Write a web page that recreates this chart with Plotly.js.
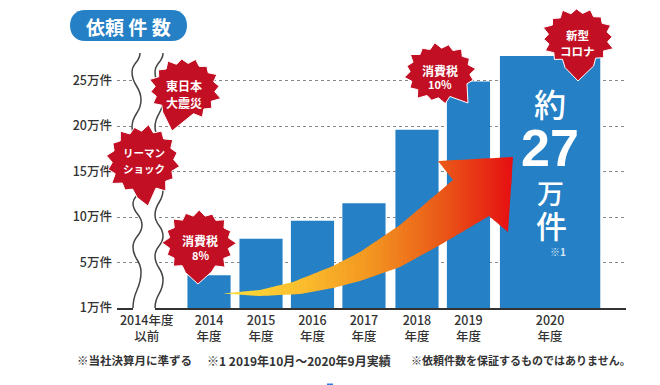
<!DOCTYPE html>
<html><head><meta charset="utf-8">
<script src="https://cdn.plot.ly/plotly-3.0.1.min.js"></script>
<style>html,body{margin:0;padding:0;background:#fff}#c{width:660px;height:385px}</style>
</head><body><div id="c"></div><script>
// ---- data ----
const categories = ['2014<br>年度','2015<br>年度','2016<br>年度','2017<br>年度','2018<br>年度','2019<br>年度','2020<br>年度'];
const requests = [3.6, 7.6, 9.6, 11.5, 19.6, 24.9, 27.7];
const yTickVals = [0, 5, 10, 15, 20, 25];
const yTickText = ['1万件','5万件','10万件','15万件','20万件','25万件'];
const earlierLabel = '2014年度<br>以前';
// ---- layout helpers ----
const barX = [0, 1, 1.99, 2.98, 4, 4.99, 6.56];
const barW = [.83, .83, .83, .83, .83, .83, 1.93];
const earlierX = -1.2;
const L = 117, R = 626, T = 8, B = 308;
const FONT = '"Noto Sans CJK JP","Noto Sans",sans-serif';
const px = x => (x - L) / (R - L), py = y => (B - y) / (B - T);
const P = (x, y) => px(x).toFixed(4) + ',' + py(y).toFixed(4);
const shapes = [], annotations = [];
const addPath = (path, fill, line, lw) => shapes.push({type:'path', xref:'paper', yref:'paper', layer:'above', path,
  fillcolor: fill || 'rgba(0,0,0,0)', line:{color: line || 'rgba(0,0,0,0)', width: lw || 0}});
const ann = (x, y, text, size, o) => annotations.push(Object.assign({xref:'paper', yref:'paper', x:px(x), y:py(y), text, showarrow:false,
  xanchor:'center', yanchor:'middle', font:{family:FONT, size, color:'#fff', weight:700}}, o || {}));
// wavy break
const waveL = [[140,53],[132,72],[141,100],[132,127],[141,150],[133,175],[139,190],[133,203],[142,225],[133,247],[141,272],[133,308]];
const waveR = [[163,53],[155,72],[163,100],[155,127],[163,150],[155,175],[163,190],[155,215],[163,236],[155,256],[163,280],[155,308]];
const curve = pts => pts.slice(1).map((p, i) => { const a = pts[i], m = (a[1] + p[1]) / 2;
  return 'C' + P(a[0], m) + ' ' + P(p[0], m) + ' ' + P(p[0], p[1]); }).join(' ');
const rev = waveR.slice().reverse();
addPath('M' + P(waveL[0][0], 53) + ' ' + curve(waveL) + ' L' + P(133, 310) + ' L' + P(155, 310) + ' L' + P(rev[0][0], rev[0][1]) + ' ' + curve(rev) + ' Z', '#fff');
addPath('M' + P(waveL[0][0], waveL[0][1]) + ' ' + curve(waveL), null, '#444', 1.5);
addPath('M' + P(waveR[0][0], waveR[0][1]) + ' ' + curve(waveR), null, '#444', 1.5);
// gradient arrow, sliced into vertical strips
const arrow = [[223,293.5],[260,290],[293,282],[333,266],[360,252],[400,225],[453,180],[438,161],[513,157],[508,232],[489,216],[440,245],[400,267],[360,281],[333,288],[300,294],[260,296]];
const clip = (poly, keep, cut) => { const out = [];
  poly.forEach((p, i) => { const q = poly[(i + 1) % poly.length], a = keep(p), b = keep(q);
    if (a) out.push(p);
    if (a !== b) { const t = (cut - p[0]) / (q[0] - p[0]); out.push([cut, p[1] + t * (q[1] - p[1])]); } });
  return out; };
const stops = [[223,[254,222,60]],[300,[250,190,45]],[370,[243,150,32]],[440,[234,90,24]],[513,[230,15,18]]];
const gradient = x => { let i = 0; while (i < stops.length - 2 && x > stops[i + 1][0]) i++;
  const [a, c0] = stops[i], [b, c1] = stops[i + 1], t = Math.min(1, Math.max(0, (x - a) / (b - a)));
  return 'rgb(' + c0.map((v, k) => Math.round(v + t * (c1[k] - v))).join(',') + ')'; };
for (let x = 223; x < 513; x += 4) {
  let s = clip(arrow, p => p[0] >= x, x); s = clip(s, p => p[0] <= x + 4.4, x + 4.4);
  if (s.length > 2) addPath('M' + s.map(p => P(p[0], p[1])).join(' L') + ' Z', gradient(x + 2));
}
// bursts
const jitter = [1, .95, 1.04, .97, 1.03, .94, 1.05, .97, 1, .95, 1.03, .96, 1.02, .97, 1, .95];
const burst = (cx, cy, rx, ry, tail, seed) => { const n = 16, v = [];
  const ta = Math.atan2(tail[1] - cy, tail[0] - cx); let used = false;
  for (let i = 0; i < n * 2; i++) { const a = i * Math.PI / n + .1 + seed;
    let d = Math.atan2(Math.sin(a - ta), Math.cos(a - ta));
    if (Math.abs(d) < .24) { if (!used) { v.push(tail); used = true; } continue; }
    const k = i % 2 ? .83 : jitter[(i / 2 + seed * 10 | 0) % n];
    v.push([cx + rx * k * Math.cos(a), cy + ry * k * Math.sin(a)]); }
  addPath('M' + v.map(p => P(p[0], p[1])).join(' L') + ' Z', '#c20f24', '#fff', 1); };
burst(185, 89, 36, 31, [172, 131], .2);
burst(143, 161, 37, 36, [148, 206], .05);
burst(199, 243, 36, 33, [198, 284], .3);
burst(440, 73, 36, 30, [468, 103], .15);
burst(578, 38, 36, 30, [578, 81], .25);
ann(184, 85, '東日本', 12); ann(184, 102, '大震災', 12);
ann(144, 153, 'リーマン', 10.5); ann(144, 168, 'ショック', 10.5);
ann(200, 240, '消費税', 12); ann(200, 255, '8%', 11);
ann(440, 70, '消費税', 12); ann(440, 84, '10%', 11);
ann(577, 35, '新型', 11.5); ann(577, 51, 'コロナ', 11.5);
// big label inside the last bar
ann(550, 103, '約', 32, {font:{family:FONT, size:32, color:'#fff', weight:500}});
ann(550, 148, '27', 52, {font:{family:'"Liberation Sans",sans-serif', size:52, color:'#fff', weight:700}});
ann(550, 192, '万', 27, {font:{family:FONT, size:27, color:'#fff', weight:500}});
ann(551, 224, '件', 31, {font:{family:FONT, size:31, color:'#fff', weight:500}});
ann(558, 251, '※1', 10, {font:{family:FONT, size:10, color:'#d5e6f5', weight:700}});
// title pill
const r = 15.5;
addPath('M' + P(70 + r, 10) + ' L' + P(187 - r, 10) + ' C' + P(187 - 4, 10) + ' ' + P(187, 18) + ' ' + P(187, 25.5) + ' C' + P(187, 33) + ' ' + P(187 - 4, 41) + ' ' + P(187 - r, 41) +
  ' L' + P(70 + r, 41) + ' C' + P(74, 41) + ' ' + P(70, 33) + ' ' + P(70, 25.5) + ' C' + P(70, 18) + ' ' + P(74, 10) + ' ' + P(70 + r, 10) + ' Z', '#2580c5');
ann(128, 26, '依頼 件 数', 19);
// footnotes
const note = (x, t, s) => ann(x, 360, t, s, {xanchor:'left', font:{family:FONT, size:s, color:'#333', weight:700}});
note(75, '※当社決算月に準ずる', 11.5);
note(205, '※1 2019年10月～2020年9月実績', 12);
note(409, '※依頼件数を保証するものではありません。', 11);
// stray blue mark at the bottom edge
shapes.push({type:'rect', xref:'paper', yref:'paper', layer:'above', x0:px(327), x1:px(333), y0:py(385), y1:py(383.5), fillcolor:'#2b7de9', line:{width:0}});

Plotly.newPlot('c', [{type:'bar', x:barX, y:requests, width:barW, marker:{color:'#2580c5', line:{width:0}}, hoverinfo:'skip'}], {
  width:660, height:385, autosize:false, showlegend:false, hovermode:false,
  paper_bgcolor:'#fff', plot_bgcolor:'#fff',
  margin:{l:L, r:660 - R, t:T, b:385 - B, pad:0},
  xaxis:{range:[-1.77, 8.02], tickmode:'array', tickvals:[earlierX].concat(barX), ticktext:[earlierLabel].concat(categories),
    tickangle:0, ticks:'', showgrid:false, zeroline:false, showline:true, linecolor:'#333', linewidth:1.5,
    tickfont:{family:FONT, size:12.5, color:'#333', weight:500}},
  yaxis:{range:[0, 32.97], tickmode:'array', tickvals:yTickVals, ticktext:yTickText, ticks:'', ticklabelstandoff:4,
    showgrid:true, gridcolor:'#888', griddash:'dot', gridwidth:1, zeroline:false, showline:false,
    tickfont:{family:FONT, size:12.5, color:'#333', weight:500}},
  shapes, annotations
}, {displayModeBar:false, staticPlot:true});
</script></body></html>
